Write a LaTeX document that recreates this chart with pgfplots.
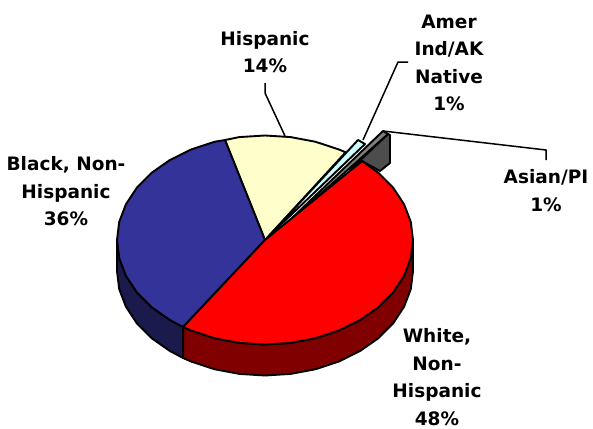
\documentclass[border=0pt]{standalone}
\usepackage{fontspec}
\setmainfont{DejaVu Sans}
\usepackage{pgfplots}
\pgfplotsset{compat=1.18}

\definecolor{blueTop}{HTML}{333399}
\definecolor{blueSide}{HTML}{1A1A4D}
\definecolor{redTop}{HTML}{FF0000}
\definecolor{redSide}{HTML}{800000}
\definecolor{creamTop}{HTML}{FFFFCC}
\definecolor{cyanTop}{HTML}{CCFFFF}
\definecolor{grayTop}{HTML}{808080}
\definecolor{graySide}{HTML}{4D4D4D}

\tikzset{
  slice/.style={draw=black, line width=1.9pt, line join=round},
  leader/.style={draw=black, line width=1.5pt, line join=round},
  lab/.style={align=center, inner sep=0pt, font=\fontsize{18.5}{27.5}\selectfont\bfseries},
}

\begin{document}
\begin{tikzpicture}
\useasboundingbox (0,0) rectangle (593pt,428pt);
\begin{axis}[
    hide axis,
    scale only axis,
    width=593pt,
    height=428pt,
    xmin=0, xmax=593,
    ymin=0, ymax=428,
    y dir=reverse,
    clip=false,
  ]
  % sides
  \addplot[slice, fill=blueSide] coordinates {
    (117,240) (119.2,258.1) (125.9,275.7) (136.8,292.25) (151.6,307.2) (169.9,320) (183.1,327)
    (183.1,358) (169.9,351) (151.6,338.2) (136.8,323.25) (125.9,306.7) (119.2,289.1) (117,271)
  } --cycle;
  \addplot[slice, fill=redSide] coordinates {
    (413,240) (410.8,258.1) (404.1,275.7) (393.2,292.25) (378.4,307.2) (360.1,320) (339,330.5)
    (315.6,338.2) (290.7,342.9) (265,344.5) (239.3,342.9) (214.4,338.2) (191,330.5) (183.1,327)
    (183.1,358) (191,361.5) (214.4,369.2) (239.3,373.9) (265,375.5) (290.7,373.9) (315.6,369.2)
    (339,361.5) (360.1,351) (378.4,338.2) (393.2,323.25) (404.1,306.7) (410.8,289.1) (413,271)
  } --cycle;
  % exploded Asian/PI slice
  \addplot[slice, fill=graySide] coordinates {
    (388,134) (390,135) (390,163) (380,171) (362,161) (350,170)
  } --cycle;
  \addplot[slice, fill=grayTop] coordinates {
    (270,239) (383,131) (388,134)
  } --cycle;
  % top faces
  \addplot[slice, fill=creamTop] coordinates {
    (265,240) (225,140) (239.3,137.1) (265,135.5) (290.7,137.1) (315.6,141.8) (339,149.5) (345.6,152.3)
  } --cycle;
  \addplot[slice, fill=cyanTop] coordinates {
    (267,238) (358,140) (365,144)
  } --cycle;
  \addplot[slice, fill=blueTop] coordinates {
    (265,240) (225,140) (214.4,141.8) (191,149.5) (169.9,160) (151.6,172.8) (136.8,187.75)
    (125.9,204.3) (119.2,221.9) (117,240) (119.2,258.1) (125.9,275.7) (136.8,292.25)
    (151.6,307.2) (169.9,320) (183.1,327)
  } --cycle;
  \addplot[slice, fill=redTop] coordinates {
    (265,240) (362.1,161.1) (378.4,172.8) (393.2,187.75) (404.1,204.3) (410.8,221.9) (413,240)
    (410.8,258.1) (404.1,275.7) (393.2,292.25) (378.4,307.2) (360.1,320) (339,330.5) (315.6,338.2)
    (290.7,342.9) (265,344.5) (239.3,342.9) (214.4,338.2) (191,330.5) (183.1,327)
  } --cycle;
  % leader lines
  \addplot[leader] coordinates {(265,83) (265,93) (285,136)};
  \addplot[leader] coordinates {(408,62) (398,62) (363,140)};
  \addplot[leader] coordinates {(383,131) (546,150) (546,160)};
  % labels
  \node[lab] at (axis cs:265,52) {Hispanic\\14\%};
  \node[lab] at (axis cs:66,191.5) {Black, Non-\\Hispanic\\36\%};
  \node[lab] at (axis cs:449,63) {Amer\\Ind/AK\\Native\\1\%};
  \node[lab] at (axis cs:546,190.5) {Asian/PI\\1\%};
  \node[lab] at (axis cs:437,377) {White,\\Non-\\Hispanic\\48\%};
\end{axis}
\end{tikzpicture}
\end{document}
